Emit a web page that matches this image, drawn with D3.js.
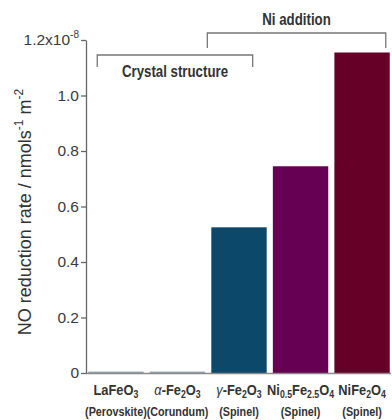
<!DOCTYPE html>
<html>
<head>
<meta charset="utf-8">
<script src="https://cdn.jsdelivr.net/npm/d3@7"></script>
<style>
  body { margin: 0; background: #fff; }
  svg { font-family: "Liberation Sans", Arial, sans-serif; }
</style>
</head>
<body>
<svg id="g1" width="392" height="420"></svg>
<script>
// data (units of 1e-8 nmol s^-1 m^-2)
const categories = ["LaFeO3", "a-Fe2O3", "g-Fe2O3", "Ni0.5Fe2.5O4", "NiFe2O4"];
const values = [0.005, 0.005, 0.525, 0.745, 1.155];
const structures = ["(Perovskite)", "(Corundum)", "(Spinel)", "(Spinel)", "(Spinel)"];
const barColors = ["#8ea5b5", "#8ea5b5", "#0b4869", "#660052", "#660027"];
// chemical formula pieces: [text, subscript?, italic?]
const formulas = [
    [["LaFeO", 0], ["3", 1]],
    [["\u03b1", 0, 1], ["-Fe", 0], ["2", 1], ["O", 0], ["3", 1]],
    [["\u03b3", 0, 1], ["-Fe", 0], ["2", 1], ["O", 0], ["3", 1]],
    [["Ni", 0], ["0.5", 1], ["Fe", 0], ["2.5", 1], ["O", 0], ["4", 1]],
    [["NiFe", 0], ["2", 1], ["O", 0], ["4", 1]]
];
const yTicks = [0, 0.2, 0.4, 0.6, 0.8, 1.0, 1.2];
const groups = [
    {label: "Crystal structure", from: 0, to: 2, level: 1},
    {label: "Ni addition", from: 2, to: 4, level: 0}
];

const svg = d3.select("#g1");
const x0 = 87, x1 = 391, yTop = 40, yBase = 373;
const squeeze = 0.83; // the figure uses a condensed bold face

const xScale = d3.scaleBand().domain(categories).range([x0, x1])
    .paddingInner(0.1).paddingOuter(0.02);
const yScale = d3.scaleLinear().domain([0, 1.2]).range([yBase, yTop]);

// bars
svg.selectAll(".bar").data(categories).enter().append("rect")
    .attr("class", "bar")
    .attr("x", d => xScale(d))
    .attr("y", (d, i) => yScale(values[i]))
    .attr("width", xScale.bandwidth())
    .attr("height", (d, i) => yBase - yScale(values[i]))
    .attr("fill", (d, i) => barColors[i]);

// baseline under bars
svg.append("line")
    .attr("x1", x0 - 1).attr("x2", x1)
    .attr("y1", yBase + 0.5).attr("y2", yBase + 0.5)
    .attr("stroke", "#8a8a8a").attr("stroke-width", 1.5);

// y axis
const yAxis = svg.append("g")
    .attr("transform", "translate(" + (x0 - 1) + ",0)")
    .call(d3.axisLeft(yScale).tickValues(yTicks).tickSize(5).tickSizeOuter(0)
        .tickFormat(d => d === 0 ? "0" : d.toFixed(1)));
yAxis.select(".domain").attr("stroke", "#666").attr("stroke-width", 1.3);
yAxis.selectAll(".tick line").attr("stroke", "#666").attr("stroke-width", 1.3);
yAxis.selectAll(".tick text")
    .attr("font-size", 15.5).attr("fill", "#3a3a3a")
    .attr("font-family", "Liberation Sans, Arial, sans-serif")
    .attr("x", -7);
// top tick carries the exponent
yAxis.selectAll(".tick text").filter(d => d === 1.2)
    .text("1.2x10")
    .append("tspan").attr("dy", -7).attr("font-size", 10).text("-8");

// y axis title
const yt = svg.append("text")
    .attr("transform", "translate(31,212) rotate(-90)")
    .attr("text-anchor", "middle")
    .attr("font-size", 18).attr("fill", "#333");
yt.append("tspan").text("NO reduction rate / nmols");
yt.append("tspan").attr("dy", -8).attr("font-size", 12).text("-1");
yt.append("tspan").attr("dy", 8).text(" m");
yt.append("tspan").attr("dy", -8).attr("font-size", 12).text("-2");

// category labels
const labels = svg.selectAll(".xlab").data(categories).enter().append("g")
    .attr("class", "xlab")
    .attr("transform", d => "translate(" + (xScale(d) + xScale.bandwidth() / 2) + ",0) scale(" + squeeze + ",1)");

labels.append("text")
    .attr("y", 395)
    .attr("text-anchor", "middle")
    .attr("font-size", 15.5).attr("font-weight", "bold").attr("fill", "#333")
    .each(function (d, i) {
        const t = d3.select(this);
        let prevSub = false;
        formulas[i].forEach(p => {
            const s = t.append("tspan").text(p[0]);
            if (p[1]) s.attr("font-size", 10.5).attr("dy", prevSub ? 0 : 3);
            else s.attr("dy", prevSub ? -3 : 0);
            if (p[2]) s.attr("font-style", "italic").attr("font-weight", "normal");
            prevSub = !!p[1];
        });
    });

labels.append("text")
    .attr("y", 416)
    .attr("text-anchor", "middle")
    .attr("font-size", 13).attr("font-weight", "bold").attr("fill", "#333")
    .text((d, i) => structures[i]);

// group brackets
const bracketY = [33, 55], legLen = [15, 12], textY = [25, 77];
groups.forEach(g => {
    const left = xScale(categories[g.from]) + (g.level ? 9 : -4);
    const right = xScale(categories[g.to]) + xScale.bandwidth() + (g.level ? -14 : -4);
    const top = bracketY[g.level];
    svg.append("path")
        .attr("d", "M" + left + "," + (top + legLen[g.level]) + "V" + top + "H" + right + "V" + (top + legLen[g.level]))
        .attr("fill", "none").attr("stroke", "#777").attr("stroke-width", 1.3);
    svg.append("text")
        .attr("transform", "translate(" + ((left + right) / 2) + "," + textY[g.level] + ") scale(" + squeeze + ",1)")
        .attr("text-anchor", "middle")
        .attr("font-size", 16).attr("font-weight", "bold").attr("fill", "#333")
        .text(g.label);
});
</script>
</body>
</html>
